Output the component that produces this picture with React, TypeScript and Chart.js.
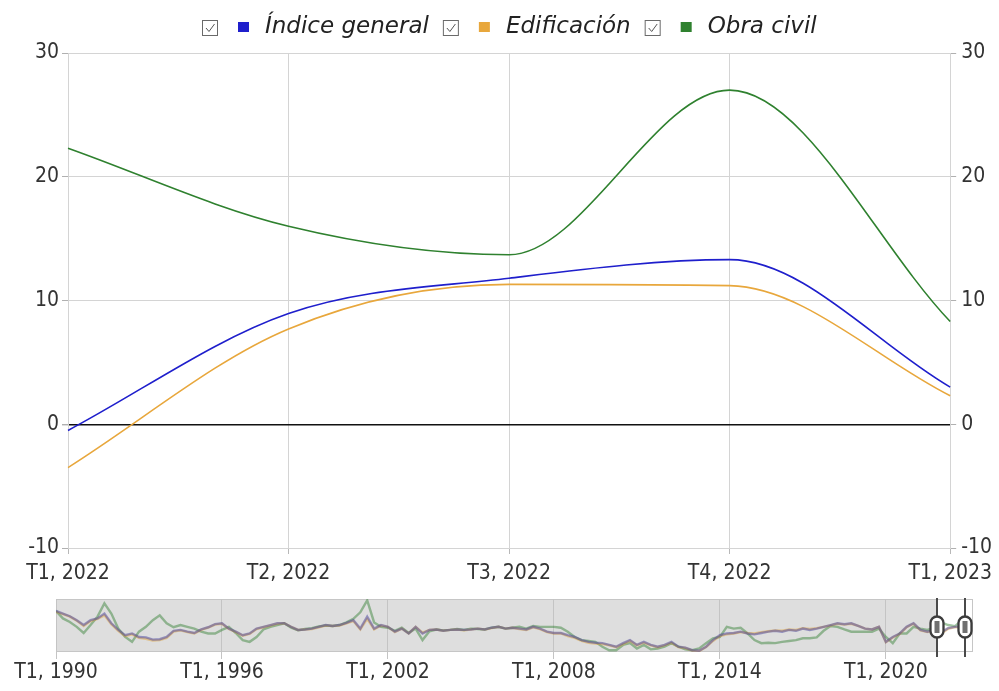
import { useEffect, useRef } from "react";
import { Chart, registerables } from "chart.js";

Chart.register(...registerables);

// ---------- main chart data ----------
const categories = ["T1, 2022", "T2, 2022", "T3, 2022", "T4, 2022", "T1, 2023"];
const indiceGeneral = [-0.5, 8.95, 11.8, 13.3, 3.0];
const edificacion = [-3.5, 7.7, 11.3, 11.2, 2.3];
const obraCivil = [22.3, 16.0, 13.7, 27.0, 8.3];
const seriesLabels = ["Índice general", "Edificación", "Obra civil"];
const seriesColors = ["#1f1fcc", "#e8a73c", "#2f812f"];
const yMin = -10;
const yMax = 30;
const yStep = 10;

// ---------- navigator data (quarterly, T1 1990 .. T1 2023) ----------
const navIndice = [
  48, 42, 36, 27, 16, 27, 31, 42, 20, 5, -7, -3, -11, -12, -17, -16, -11, 3, 5, 1,
  -2, 6, 11, 18, 20, 8, 1, -7, -3, 8, 12, 16, 20, 20, 12, 5, 6, 8, 12, 16,
  14, 16, 21, 27, 8, 35, 8, 16, 12, 1, 8, -3, 12, -3, 5, 6, 3, 5, 6, 5,
  6, 8, 6, 10, 12, 8, 10, 8, 6, 12, 8, 1, -2, -2, -7, -11, -18, -22, -24, -25,
  -29, -33, -25, -18, -29, -22, -29, -33, -29, -22, -33, -35, -41, -42, -33, -18, -7, -3, -2, 1,
  -3, -5, -2, 1, 3, 1, 5, 3, 8, 5, 8, 12, 16, 20, 18, 20, 14, 8, 6, 12,
  -22, -11, -3, 12, 20, 5, 1, 5, -0.5, 8.95, 11.8, 13.3, 3.0,
];
const navEdificacion = [
  46, 41, 35, 26, 14, 25, 30, 38, 18, 3, -9, -5, -13, -15, -19, -18, -13, 1, 4, 0,
  -3, 5, 10, 17, 19, 7, 0, -8, -4, 7, 11, 15, 19, 20, 12, 5, 6, 7, 11, 15,
  14, 15, 20, 25, 6, 30, 6, 15, 12, 0, 8, -3, 12, -1, 5, 6, 3, 5, 6, 4,
  6, 8, 6, 9, 12, 8, 10, 7, 5, 11, 7, 0, -3, -3, -9, -13, -20, -24, -26, -27,
  -30, -34, -27, -20, -30, -24, -30, -34, -30, -24, -34, -36, -42, -43, -34, -20, -9, -5, -3, 0,
  -2, -3, 0, 2, 4, 3, 6, 5, 9, 7, 9, 12, 15, 19, 17, 19, 14, 8, 6, 12,
  -23, -12, -4, 11, 19, 4, 0, 3, -3.5, 7.7, 11.3, 11.2, 2.3,
];
const navObraCivil = [
  48, 31, 23, 12, -2, 16, 35, 65, 42, 8, -11, -22, 1, 12, 27, 38, 20, 11, 16, 12,
  8, 1, -3, -3, 5, 12, -2, -18, -22, -11, 6, 12, 16, 20, 10, 4, 7, 9, 13, 15,
  14, 16, 22, 30, 45, 72, 22, 12, 10, 3, 10, -2, 8, -18, 2, 6, 4, 5, 7, 5,
  8, 7, 6, 10, 12, 8, 10, 12, 8, 14, 12, 12, 12, 10, 1, -11, -18, -20, -22, -33,
  -41, -41, -29, -25, -37, -29, -39, -37, -33, -25, -33, -39, -41, -37, -25, -14, -11, 12, 8, 10,
  -3, -18, -25, -24, -25, -22, -20, -18, -14, -14, -12, 3, 14, 12, 6, 1, 1, 1, 1, 8,
  -11, -25, -3, -3, 12, 8, 5, 10, 22.3, 16.0, 13.7, 27.0, 8.3,
];
const navTickLabels = ["T1, 1990", "T1, 1996", "T1, 2002", "T1, 2008", "T1, 2014", "T1, 2020"];
const navTickEvery = 24; // quarters between labelled ticks
const navSelection = [128, 132]; // T1 2022 .. T1 2023 (quarter index)
const navXMax = 132.6;
const navYMin = -45;
const navYMax = 75;

const TICK_FONT = { family: "'DejaVu Sans Condensed', 'DejaVu Sans', sans-serif", size: 21 };
const TICK_COLOR = "#333";
const GRID = "#d4d4d4";

const legendPlugin = {
  id: "checkLegend",
  afterDraw(chart: any) {
    const ctx = chart.ctx;
    ctx.save();
    ctx.font = "italic 23px 'DejaVu Sans', sans-serif";
    const items = chart.data.datasets.map((ds: any) => ({
      label: ds.label,
      color: ds.borderColor,
      w: ctx.measureText(ds.label).width,
    }));
    const per = 63;
    const gap = 14;
    const total = items.reduce((s: number, it: any) => s + per + it.w, 0) + gap * (items.length - 1);
    const { left, right } = chart.chartArea;
    let x = Math.round((left + right) / 2 - total / 2);
    for (const it of items) {
      // checkbox
      ctx.fillStyle = "#fff";
      ctx.strokeStyle = "#6a6a6a";
      ctx.lineWidth = 1;
      ctx.fillRect(x + 0.5, 20.5, 15, 15);
      ctx.strokeRect(x + 0.5, 20.5, 15, 15);
      ctx.beginPath();
      ctx.moveTo(x + 4, 28);
      ctx.lineTo(x + 7, 31.5);
      ctx.lineTo(x + 12.5, 24);
      ctx.strokeStyle = "#555";
      ctx.stroke();
      // colored square
      ctx.fillStyle = it.color;
      ctx.fillRect(x + 36, 22, 11, 10);
      // label
      ctx.fillStyle = "#222";
      ctx.textBaseline = "alphabetic";
      ctx.textAlign = "left";
      ctx.fillText(it.label, x + 63, 33);
      x += per + it.w + gap;
    }
    ctx.restore();
  },
};

const navPlugin = {
  id: "navFrame",
  beforeDraw(chart: any) {
    const ctx = chart.ctx;
    const { left, right, top, bottom } = chart.chartArea;
    const xs = chart.scales.x;
    const selL = xs.getPixelForValue(navSelection[0]) - 4;
    ctx.save();
    ctx.fillStyle = "#fff";
    ctx.fillRect(0, 0, chart.width, chart.height);
    ctx.fillStyle = "#dedede";
    ctx.fillRect(left, top, selL - left, bottom - top);
    ctx.strokeStyle = "#c6c6c6";
    ctx.lineWidth = 1;
    ctx.strokeRect(left + 0.5, top + 0.5, right - left - 1, bottom - top - 1);
    ctx.restore();
  },
  afterDraw(chart: any) {
    const ctx = chart.ctx;
    const { top, bottom } = chart.chartArea;
    const xs = chart.scales.x;
    const cy = (top + bottom) / 2 + 1.5;
    ctx.save();
    for (const q of navSelection) {
      const x = Math.round(xs.getPixelForValue(q) - 4);
      ctx.strokeStyle = "#4a4a4a";
      ctx.lineWidth = 2;
      ctx.beginPath();
      ctx.moveTo(x, top - 1);
      ctx.lineTo(x, bottom + 5);
      ctx.stroke();
      // capsule
      const w = 13;
      const h = 21;
      ctx.beginPath();
      ctx.roundRect(x - w / 2, cy - h / 2, w, h, 6.5);
      ctx.fillStyle = "#fff";
      ctx.fill();
      ctx.lineWidth = 2.3;
      ctx.strokeStyle = "#3c3c3c";
      ctx.stroke();
      ctx.fillStyle = "#707070";
      ctx.fillRect(x - 2.5, cy - 6, 5, 12);
    }
    ctx.restore();
  },
};

export default function App() {
  const mainRef = useRef<HTMLCanvasElement>(null);
  const navRef = useRef<HTMLCanvasElement>(null);

  useEffect(() => {
    document.body.style.margin = "0";
    const mainSeries = [indiceGeneral, edificacion, obraCivil];
    const main = new Chart(mainRef.current as HTMLCanvasElement, {
      type: "line",
      data: {
        labels: categories,
        datasets: mainSeries.map((d, i) => ({
          label: seriesLabels[i],
          data: d,
          borderColor: seriesColors[i],
          backgroundColor: seriesColors[i],
          borderWidth: 1.6,
          pointRadius: 0,
          cubicInterpolationMode: "monotone" as const,
          fill: false,
        })),
      },
      options: {
        responsive: false,
        animation: false,
        events: [],
        layout: { padding: { top: 53, left: 0, right: 0, bottom: 0 } },
        plugins: { legend: { display: false }, tooltip: { enabled: false }, title: { display: false } },
        scales: {
          x: {
            type: "category",
            offset: false,
            afterFit: (s: any) => {
              s.height = 42;
            },
            grid: { color: GRID, tickLength: 6, tickColor: "#b8b8b8" },
            border: { color: GRID },
            ticks: { font: TICK_FONT, color: TICK_COLOR, padding: 7, autoSkip: false, maxRotation: 0 },
          },
          y: {
            position: "left",
            min: yMin,
            max: yMax,
            afterFit: (s: any) => {
              s.width = 68;
            },
            grid: {
              color: (c: any) => (c.tick && c.tick.value === 0 ? "#111" : GRID),
              lineWidth: (c: any) => (c.tick && c.tick.value === 0 ? 1.4 : 1),
              tickLength: 6,
              tickColor: "#b0b0b0",
            },
            border: { color: GRID },
            ticks: { stepSize: yStep, font: TICK_FONT, color: TICK_COLOR, padding: 3 },
          },
          y2: {
            position: "right",
            min: yMin,
            max: yMax,
            afterFit: (s: any) => {
              s.width = 47;
            },
            grid: { drawOnChartArea: false, tickLength: 6, tickColor: "#b0b0b0" },
            border: { color: GRID },
            ticks: { stepSize: yStep, font: TICK_FONT, color: TICK_COLOR, padding: 5 },
          },
        },
      },
      plugins: [legendPlugin],
    });

    const navSeries = [navIndice, navEdificacion, navObraCivil];
    const navColors = ["rgba(70,65,160,0.5)", "rgba(225,165,60,0.5)", "rgba(45,125,45,0.45)"];
    const nav = new Chart(navRef.current as HTMLCanvasElement, {
      type: "line",
      data: {
        datasets: navSeries.map((d, i) => ({
          label: seriesLabels[i],
          data: d.map((v, q) => ({ x: q, y: v })),
          borderColor: navColors[i],
          borderWidth: 2.4,
          pointRadius: 0,
          tension: 0,
          fill: false,
        })),
      },
      options: {
        responsive: false,
        animation: false,
        events: [],
        layout: { padding: { top: 9, left: 56, right: 26, bottom: 0 } },
        plugins: { legend: { display: false }, tooltip: { enabled: false } },
        scales: {
          x: {
            type: "linear",
            min: 0,
            max: navXMax,
            afterFit: (s: any) => {
              s.height = 39;
            },
            afterBuildTicks: (s: any) => {
              s.ticks = navTickLabels.map((_, i) => ({ value: i * navTickEvery }));
            },
            grid: { color: "#c4c4c4", tickLength: 7, tickColor: "#c4c4c4" },
            border: { display: false },
            ticks: {
              font: TICK_FONT,
              color: TICK_COLOR,
              padding: 1,
              autoSkip: false,
              maxRotation: 0,
              callback: (_v: any, i: number) => navTickLabels[i],
            },
          },
          y: { display: false, min: navYMin, max: navYMax },
        },
      },
      plugins: [navPlugin],
    });

    return () => {
      main.destroy();
      nav.destroy();
    };
  }, []);

  return (
    <div style={{ position: "relative", width: 999, height: 691, background: "#fff" }}>
      <canvas ref={mainRef} width={999} height={590} style={{ position: "absolute", left: 0, top: 0 }} />
      <canvas ref={navRef} width={999} height={101} style={{ position: "absolute", left: 0, top: 590 }} />
    </div>
  );
}
